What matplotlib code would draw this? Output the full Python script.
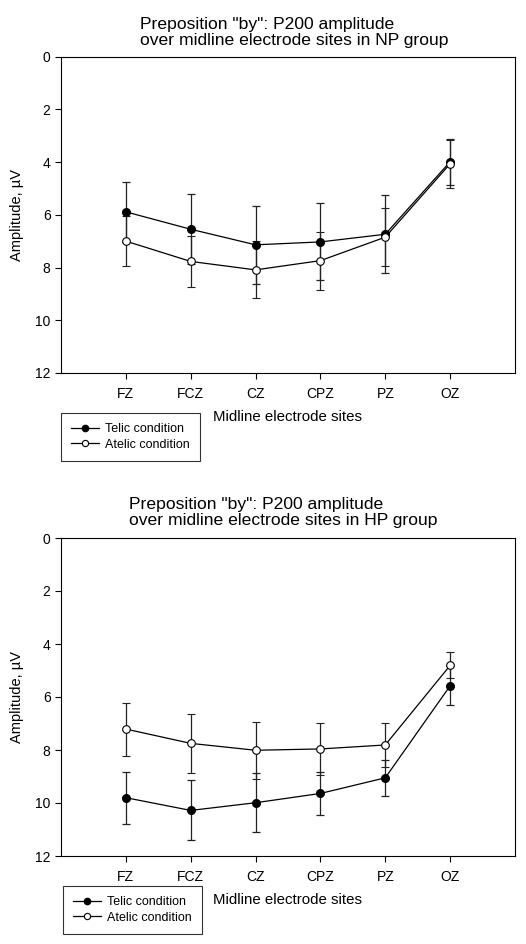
import matplotlib.pyplot as plt
from matplotlib.lines import Line2D

plt.rcParams['font.family'] = ['Liberation Sans', 'DejaVu Sans']

sites = ["FZ", "FCZ", "CZ", "CPZ", "PZ", "OZ"]

# NP group
np_telic = [5.89, 6.55, 7.14, 7.03, 6.74, 3.99]
np_telic_err = [1.15, 1.32, 1.47, 1.46, 1.48, 0.87]
np_atelic = [7.00, 7.77, 8.09, 7.74, 6.85, 4.07]
np_atelic_err = [0.96, 0.97, 1.08, 1.10, 1.11, 0.90]

# HP group
hp_telic = [9.80, 10.28, 9.99, 9.64, 9.05, 5.58]
hp_telic_err = [0.98, 1.13, 1.12, 0.82, 0.69, 0.74]
hp_atelic = [7.21, 7.75, 8.01, 7.96, 7.81, 4.81]
hp_atelic_err = [1.00, 1.12, 1.08, 0.97, 0.84, 0.49]


def px(y):
    # pixel row from top -> figure fraction
    return 1 - y / 944


def draw_panel(fig, rect, telic, telic_err, atelic, atelic_err, group,
               title_x, title_y, legend_pos, xlabel_y):
    ax = fig.add_axes(rect)
    x = list(range(1, len(sites) + 1))

    ax.errorbar(x, telic, yerr=telic_err, color='black', ecolor='#222222', lw=0.9,
                elinewidth=0.9, capsize=3, capthick=0.9, marker='o', ms=5.5,
                mfc='black', mec='black', zorder=3)
    ax.errorbar(x, atelic, yerr=atelic_err, color='black', ecolor='#222222', lw=0.9,
                elinewidth=0.9, capsize=3, capthick=0.9, marker='o', ms=5.5,
                mfc='white', mec='black', mew=0.8, zorder=3)

    ax.set_xlim(0, 7)
    ax.set_ylim(12, 0)
    ax.set_xticks(x)
    ax.set_xticklabels(sites)
    ax.set_yticks([0, 2, 4, 6, 8, 10, 12])
    ax.tick_params(direction='out', length=4, width=0.8, labelsize=10)
    ax.tick_params(axis='x', pad=6)
    for s in ax.spines.values():
        s.set_linewidth(0.8)

    ax.set_ylabel("Amplitude, \u00b5V", fontsize=10.5, labelpad=8)

    fig.text(title_x, px(title_y), 'Preposition "by": P200 amplitude',
             fontsize=12.6, ha='left', va='center')
    fig.text(title_x, px(title_y + 15), 'over midline electrode sites in ' + group + ' group',
             fontsize=12.6, ha='left', va='center')
    fig.text(rect[0] + rect[2] / 2, px(xlabel_y), "Midline electrode sites", fontsize=10.8,
             ha='center', va='center')

    handles = [
        Line2D([], [], color='black', lw=0.9, marker='o', ms=4.5, mfc='black', mec='black'),
        Line2D([], [], color='black', lw=0.9, marker='o', ms=4.5, mfc='white', mec='black', mew=0.8),
    ]
    leg = ax.legend(handles, ['Telic condition', 'Atelic condition'], loc='upper left',
                    bbox_to_anchor=legend_pos, bbox_transform=fig.transFigure,
                    borderaxespad=0, fontsize=9, frameon=True, fancybox=False,
                    edgecolor='black', handlelength=2.2, borderpad=0.8,
                    labelspacing=0.3, handletextpad=0.55)
    leg.get_frame().set_linewidth(0.8)
    return ax


fig = plt.figure(figsize=(5.26, 9.44), dpi=100)

draw_panel(fig, [0.116, px(373), 0.863, (373 - 56.5) / 944], np_telic, np_telic_err,
           np_atelic, np_atelic_err, "NP", 140 / 526, 25, (61 / 526, px(413)), 417)
draw_panel(fig, [0.116, px(856), 0.863, (856 - 538) / 944], hp_telic, hp_telic_err,
           hp_atelic, hp_atelic_err, "HP", 129 / 526, 505, (63 / 526, px(886)), 900)

fig.savefig("out.png", dpi=100)
